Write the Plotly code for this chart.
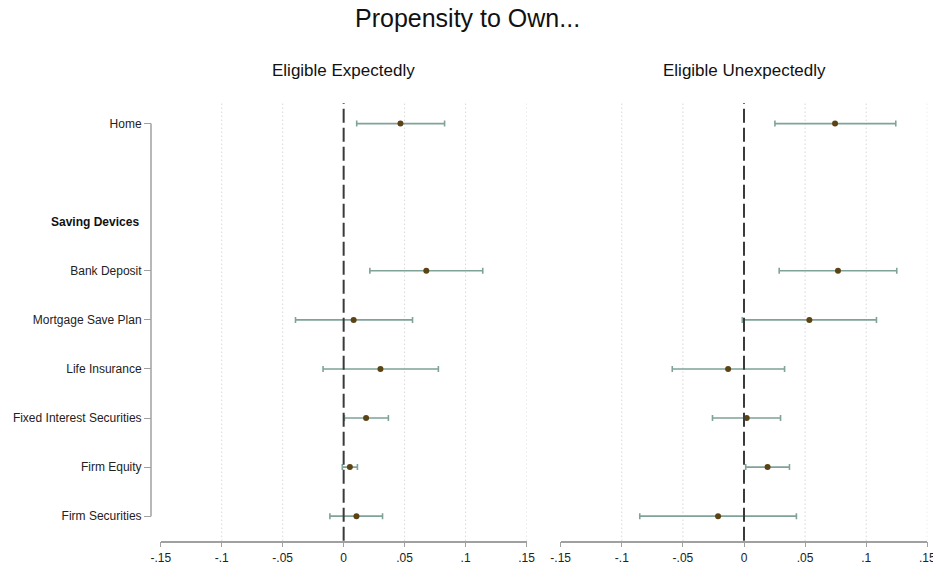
import plotly.graph_objects as go

# Rows of the coefficient plot (row index 1 left empty, row 2 is the group header)
labels = ["Home", "Bank Deposit", "Mortgage Save Plan", "Life Insurance",
          "Fixed Interest Securities", "Firm Equity", "Firm Securities"]
rows = [0, 3, 4, 5, 6, 7, 8]
header_label = "Saving Devices"
header_row = 2

# Eligible Expectedly: point estimates and confidence bounds
exp_est = [0.0466, 0.0678, 0.0082, 0.0302, 0.0184, 0.0051, 0.0105]
exp_lo = [0.0107, 0.0215, -0.0395, -0.0169, 0.0006, -0.0011, -0.0113]
exp_hi = [0.0828, 0.1141, 0.0565, 0.0777, 0.0367, 0.0113, 0.0319]

# Eligible Unexpectedly: point estimates and confidence bounds
unexp_est = [0.0745, 0.0769, 0.0535, -0.0130, 0.0022, 0.0193, -0.0212]
unexp_lo = [0.0253, 0.0288, -0.0014, -0.0587, -0.0258, 0.0014, -0.0853]
unexp_hi = [0.1242, 0.1250, 0.1084, 0.0332, 0.0299, 0.0372, 0.0429]

x_ticks = [-0.15, -0.1, -0.05, 0, 0.05, 0.1, 0.15]
x_ticktext = ["-.15", "-.1", "-.05", "0", ".05", ".1", ".15"]
grid_vals = [-0.1, -0.05, 0.05, 0.1, 0.15]

W, H = 933, 564
dot_color = "#5c4314"
ci_color = "#7fa398"
axis_gray = "#a0a0a0"
font_family = "Liberation Sans, Arial, sans-serif"

left_dom = [160.8 / W, 526.5 / W]
right_dom = [560.7 / W, 927.3 / W]
y_dom = [1 - 540.7 / H, 1 - 103 / H]
y_range = [8.5, -0.42]
yaxis_x = 151 / W

fig = go.Figure()

for est, lo, hi, xa in [(exp_est, exp_lo, exp_hi, "x"), (unexp_est, unexp_lo, unexp_hi, "x2")]:
    fig.add_trace(go.Scatter(
        x=est, y=rows, mode="markers",
        xaxis=xa, yaxis="y" if xa == "x" else "y2",
        marker=dict(color=dot_color, size=6),
        error_x=dict(type="data", symmetric=False,
                     array=[h - e for h, e in zip(hi, est)],
                     arrayminus=[e - l for e, l in zip(est, lo)],
                     color=ci_color, thickness=1.6, width=3),
        showlegend=False, hoverinfo="skip",
    ))

xaxis_common = dict(
    range=[-0.15, 0.15], tickvals=x_ticks, ticktext=x_ticktext, automargin=False,
    ticklabeloverflow="allow",
    showgrid=False, zeroline=False, showline=True, linecolor=axis_gray, linewidth=1.5,
    ticks="outside", ticklen=5, tickcolor=axis_gray, tickwidth=1.2,
    tickfont=dict(family=font_family, size=12, color="#222"),
)

fig.update_layout(
    width=W, height=H,
    margin=dict(l=0, r=0, t=0, b=0),
    plot_bgcolor="white", paper_bgcolor="white",
    font=dict(family=font_family),
    xaxis=dict(domain=left_dom, anchor="y", **xaxis_common),
    xaxis2=dict(domain=right_dom, anchor="y2", **xaxis_common),
    yaxis=dict(domain=y_dom, range=y_range, anchor="free", position=yaxis_x,
               automargin=False, tickvals=rows, ticktext=labels, showgrid=False,
               zeroline=False, showline=False, ticks="outside", ticklen=7,
               tickcolor=axis_gray, tickwidth=1.2,
               tickfont=dict(family=font_family, size=12, color="#222")),
    yaxis2=dict(domain=y_dom, range=y_range, anchor="x2", showticklabels=False,
                automargin=False, showgrid=False, zeroline=False, showline=False, ticks=""),
)

shapes = []
for xr in ["x", "x2"]:
    for g in grid_vals:
        shapes.append(dict(type="line", xref=xr, yref="paper", x0=g, x1=g,
                           y0=y_dom[0], y1=y_dom[1],
                           line=dict(color="#c4c4c4", width=1, dash="1px,3px"), layer="below"))
    shapes.append(dict(type="line", xref=xr, yref="paper", x0=0, x1=0,
                       y0=y_dom[0], y1=y_dom[1],
                       line=dict(color="#3a3a3a", width=2, dash="14px,5px")))
# vertical axis line spanning the labelled rows
shapes.append(dict(type="line", xref="paper", yref="y", x0=yaxis_x, x1=yaxis_x,
                   y0=rows[0], y1=rows[-1], line=dict(color=axis_gray, width=1.5)))
fig.update_layout(shapes=shapes)

annotations = [
    dict(text="Propensity to Own...", x=467 / W, y=1 - 18 / H, xref="paper", yref="paper",
         showarrow=False, font=dict(size=25, color="#111"), xanchor="center", yanchor="middle"),
    dict(text="Eligible Expectedly", x=343.6 / W, y=1 - 70 / H, xref="paper", yref="paper",
         showarrow=False, font=dict(size=17, color="#111"), xanchor="center", yanchor="middle"),
    dict(text="Eligible Unexpectedly", x=744 / W, y=1 - 70 / H, xref="paper", yref="paper",
         showarrow=False, font=dict(size=17, color="#111"), xanchor="center", yanchor="middle"),
    dict(text="<b>" + header_label + "</b>", x=141 / W, y=header_row, xref="paper", yref="y",
         showarrow=False, font=dict(size=12, color="#111"), xanchor="right", yanchor="middle"),
]
fig.update_layout(annotations=annotations)

fig.write_html("out.html")
